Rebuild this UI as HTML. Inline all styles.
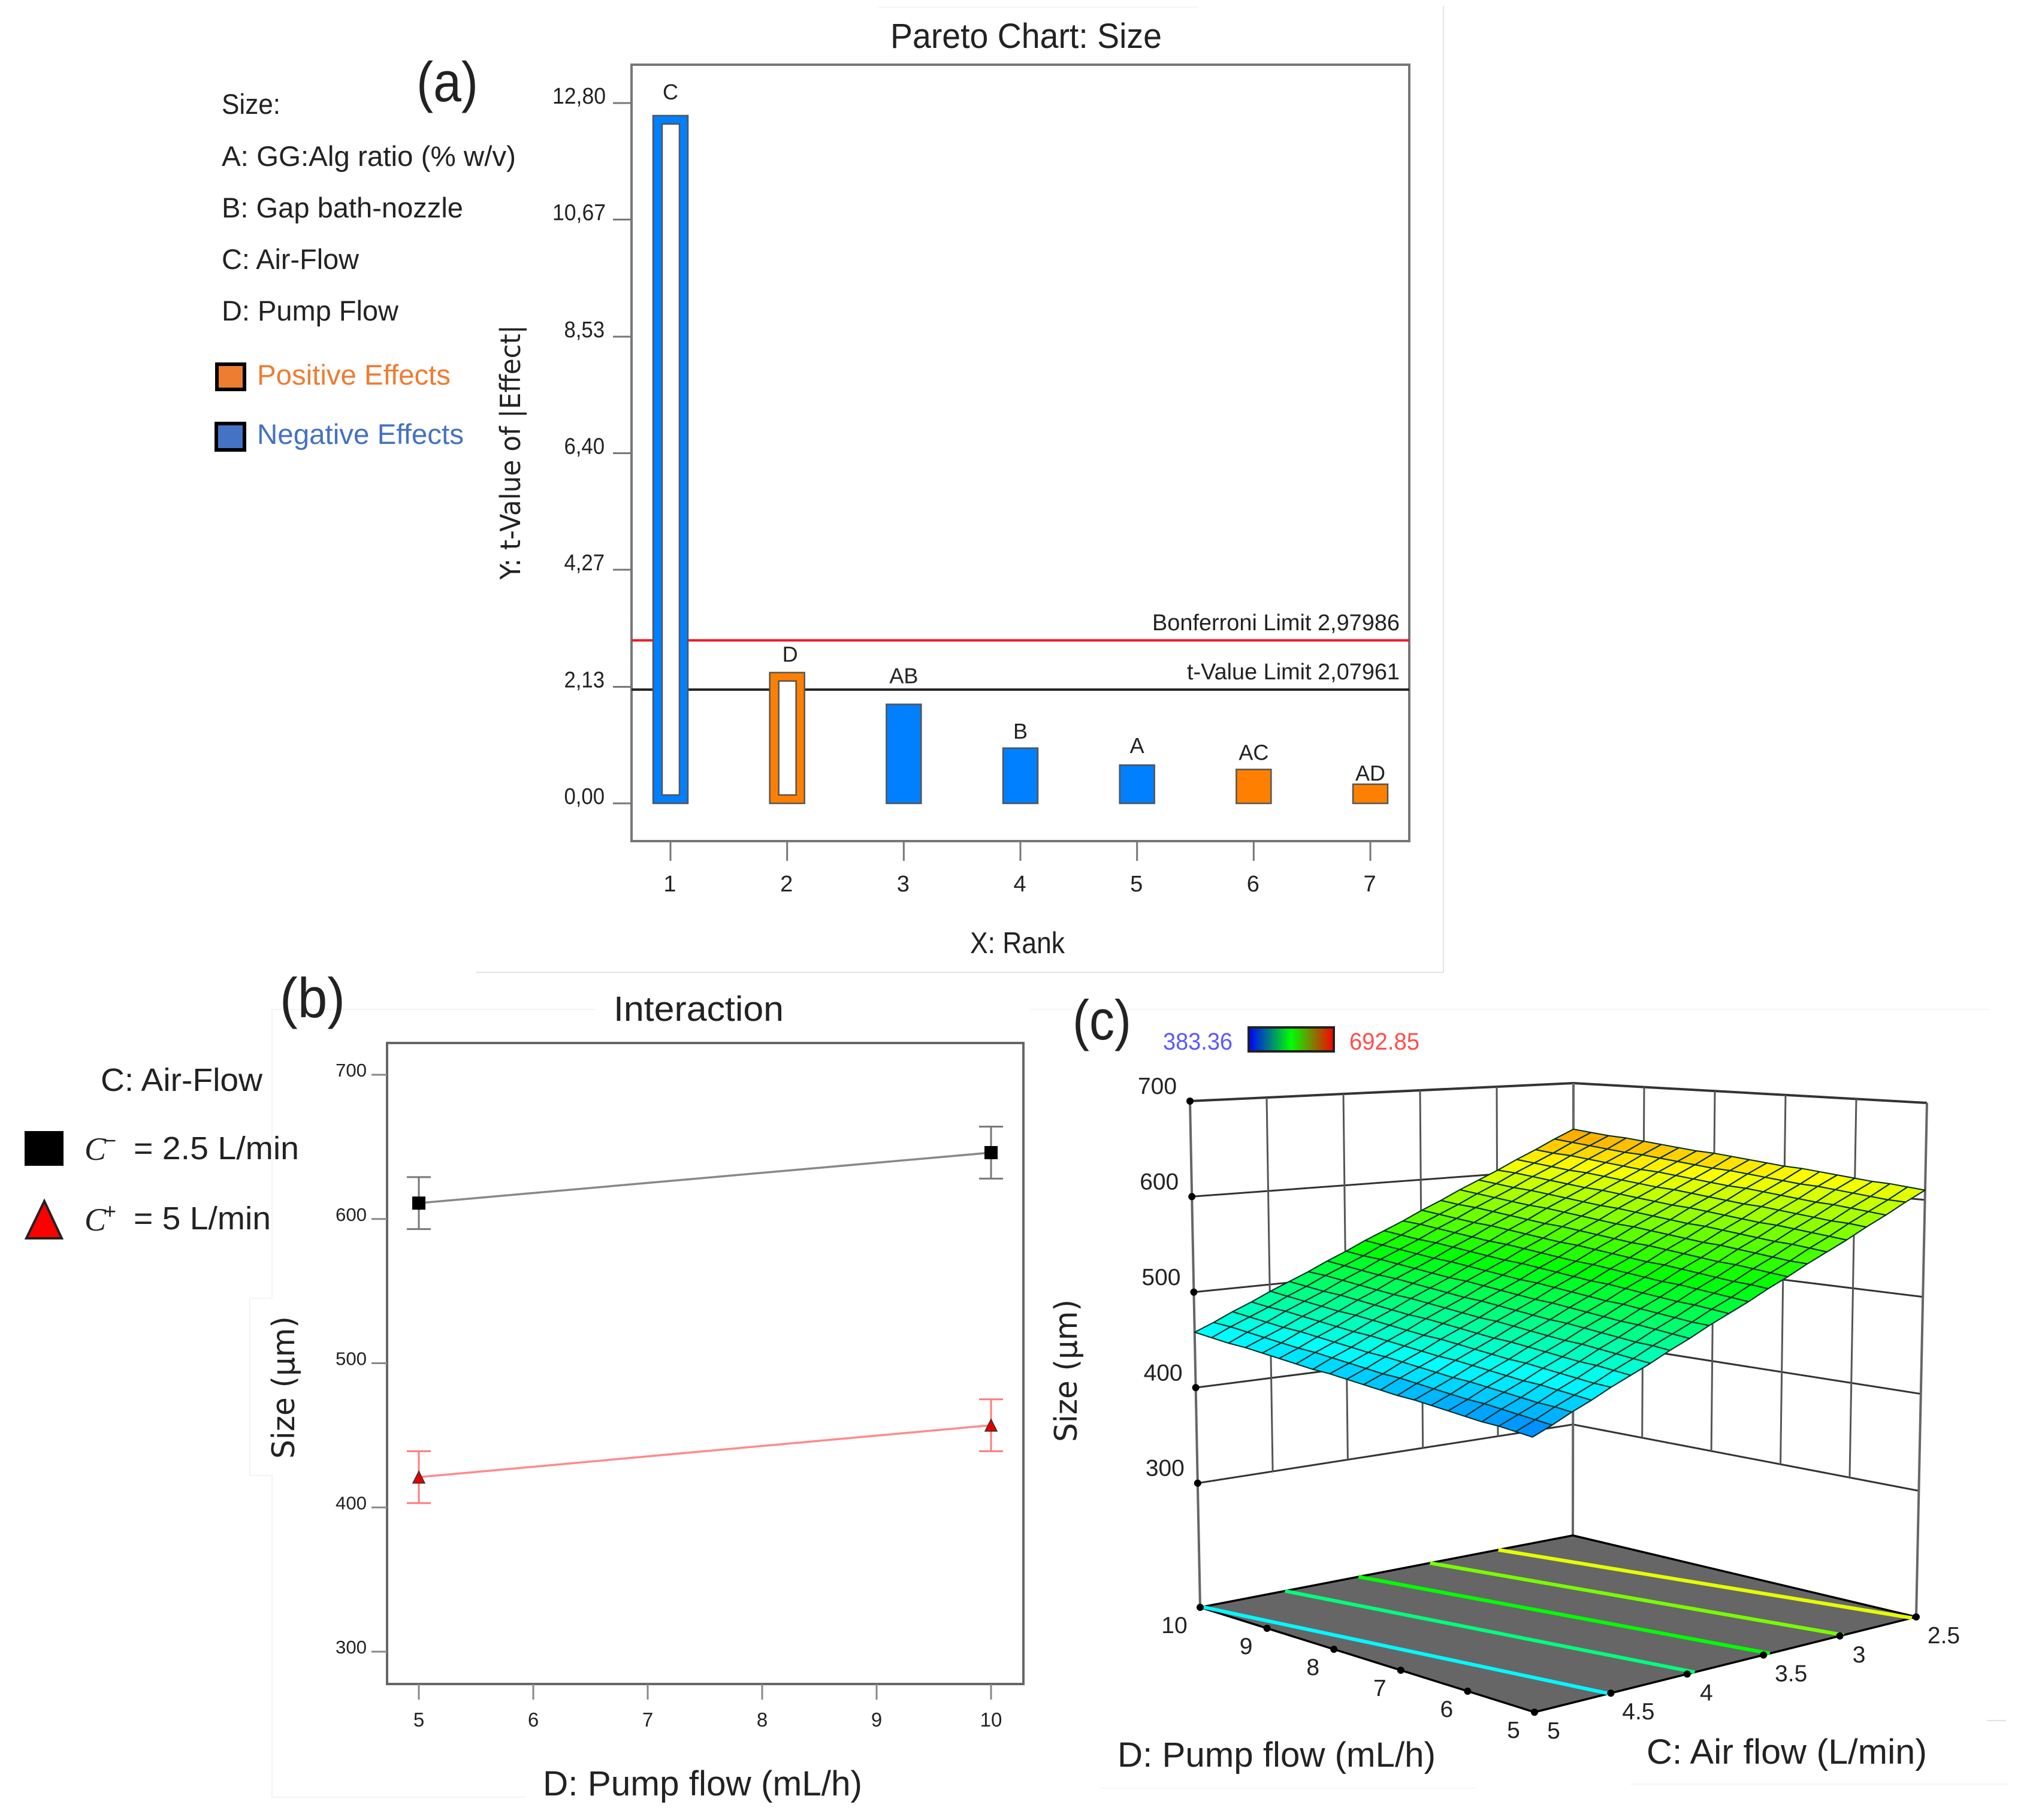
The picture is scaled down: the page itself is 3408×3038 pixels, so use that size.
<!DOCTYPE html>
<html lang="en">
<head>
<meta charset="utf-8">
<title>Pareto, interaction and response surface charts</title>
<style>
html,body{margin:0;padding:0;background:#fff;}
svg{display:block;}
text{font-family:"Liberation Sans",sans-serif;fill:#222;}
.dj{font-family:"DejaVu Sans","Liberation Sans",sans-serif;}
.it{font-family:"Liberation Serif",serif;font-style:italic;}
</style>
</head>
<body>
<svg id="root" xmlns="http://www.w3.org/2000/svg" width="3408" height="3038" viewBox="0 0 3408 3038">
  <rect x="0" y="0" width="3408" height="3038" fill="#fff"/>

  <g fill="none" stroke-width="1.5">
    <path d="M2409 10V1623H794" stroke="#dcdcdc"/>
    <path d="M1464 12H2000" stroke="#f4f4f4"/>
    <path d="M993 1685H454V2167H417V2463H454V3000H876" stroke="#efefef"/>
    <path d="M1720 1685H3320" stroke="#f3f3f3"/>
    <path d="M1835 2985H2465M2720 2978H3350" stroke="#f3f3f3"/>
    <path d="M3316 2872H3348" stroke="#d8d8d8"/>
  </g>

  <!-- panel (a) static text -->
  <g>
    <text x="695" y="169" font-size="94" textLength="103" lengthAdjust="spacingAndGlyphs">(a)</text>
    <text x="370" y="190" font-size="47" textLength="98" lengthAdjust="spacingAndGlyphs">Size:</text>
    <text x="370" y="277" font-size="47" textLength="491" lengthAdjust="spacingAndGlyphs">A: GG:Alg ratio (% w/v)</text>
    <text x="370" y="363" font-size="47" textLength="403" lengthAdjust="spacingAndGlyphs">B: Gap bath-nozzle</text>
    <text x="370" y="449" font-size="47" textLength="229" lengthAdjust="spacingAndGlyphs">C: Air-Flow</text>
    <text x="370" y="535" font-size="47" textLength="295" lengthAdjust="spacingAndGlyphs">D: Pump Flow</text>
    <rect x="362" y="608" width="46" height="42" fill="#ED7D31" stroke="#000" stroke-width="6"/>
    <text x="429" y="642" font-size="47" textLength="323" lengthAdjust="spacingAndGlyphs" style="fill:#ED7D31">Positive Effects</text>
    <rect x="361" y="707" width="47" height="44" fill="#4472C4" stroke="#000" stroke-width="6"/>
    <text x="429" y="741" font-size="47" textLength="345" lengthAdjust="spacingAndGlyphs" style="fill:#4472C4">Negative Effects</text>
  </g>
  <text x="1486" y="80" font-size="58" textLength="453" lengthAdjust="spacingAndGlyphs">Pareto Chart: Size</text>
  <text class="dj" transform="rotate(-90 868 755)" x="868" y="755" text-anchor="middle" font-size="46" textLength="425" lengthAdjust="spacingAndGlyphs">Y: t-Value of |Effect|</text>
  <text x="1619" y="1591" font-size="50" textLength="158" lengthAdjust="spacingAndGlyphs">X: Rank</text>
  <g id="pareto"></g>

  <!-- panel (b) static text -->
  <text x="467" y="1698" font-size="94" textLength="109" lengthAdjust="spacingAndGlyphs">(b)</text>
  <text x="1024" y="1704" font-size="58" textLength="284" lengthAdjust="spacingAndGlyphs">Interaction</text>
  <g>
    <text x="168" y="1821" font-size="54" textLength="270" lengthAdjust="spacingAndGlyphs">C: Air-Flow</text>
    <rect x="41" y="1888" width="65" height="58" fill="#000"/>
    <text class="it" x="141" y="1936" font-size="54">C</text>
    <text x="173" y="1916" font-size="36">−</text>
    <text x="223" y="1935" font-size="54" textLength="276" lengthAdjust="spacingAndGlyphs">= 2.5 L/min</text>
    <polygon points="74,2005 44,2067 103,2067" fill="#ff0000" stroke="#222" stroke-width="4"/>
    <text class="it" x="141" y="2054" font-size="54">C</text>
    <text x="173" y="2034" font-size="36">+</text>
    <text x="223" y="2052" font-size="54" textLength="229" lengthAdjust="spacingAndGlyphs">= 5 L/min</text>
  </g>
  <text class="dj" transform="rotate(-90 491 2316)" x="491" y="2316" text-anchor="middle" font-size="52" textLength="238" lengthAdjust="spacingAndGlyphs">Size (µm)</text>
  <text x="937" y="1812" font-size="58" textLength="469" lengthAdjust="spacingAndGlyphs">C: Air flow (L/min)</text>
  <text x="906" y="2997" font-size="58" textLength="533" lengthAdjust="spacingAndGlyphs">D: Pump flow (mL/h)</text>
  <g id="interaction"></g>

  <!-- panel (c) static text -->
  <defs>
    <linearGradient id="cbar" x1="0" y1="0" x2="1" y2="0">
      <stop offset="0" stop-color="#0000ff"/>
      <stop offset="0.5" stop-color="#00ff00"/>
      <stop offset="1" stop-color="#ff0000"/>
    </linearGradient>
  </defs>
  <text x="1790" y="1735" font-size="94" textLength="98" lengthAdjust="spacingAndGlyphs">(c)</text>
  <text x="1941" y="1752" font-size="40" textLength="116" lengthAdjust="spacingAndGlyphs" style="fill:#5a5aff">383.36</text>
  <rect x="2084" y="1715" width="142" height="40" fill="url(#cbar)" stroke="#222" stroke-width="4"/>
  <text x="2252" y="1752" font-size="40" textLength="117" lengthAdjust="spacingAndGlyphs" style="fill:#ff4d4d">692.85</text>
  <text class="dj" transform="rotate(-90 1797 2288)" x="1797" y="2288" text-anchor="middle" font-size="52" textLength="238" lengthAdjust="spacingAndGlyphs">Size (µm)</text>
  <text x="1865" y="2949" font-size="58" textLength="531" lengthAdjust="spacingAndGlyphs">D: Pump flow (mL/h)</text>
  <text x="2748" y="2944" font-size="58" textLength="468" lengthAdjust="spacingAndGlyphs">C: Air flow (L/min)</text>
  <g id="surface"></g>
</svg>

<script>
// ---------- Pareto chart data ----------
const paretoRanks = [1, 2, 3, 4, 5, 6, 7];
const paretoTerms = ['C', 'D', 'AB', 'B', 'A', 'AC', 'AD'];
const paretoValues = [12.57, 2.39, 1.81, 1.01, 0.70, 0.62, 0.35];
const paretoSigns = ['neg', 'pos', 'neg', 'neg', 'neg', 'pos', 'pos'];
const paretoHollow = [true, true, false, false, false, false, false];
const paretoYTicks = [0, 2.13, 4.27, 6.40, 8.53, 10.67, 12.80];
const paretoYTickLabels = ['0,00', '2,13', '4,27', '6,40', '8,53', '10,67', '12,80'];
const bonferroniLimit = 2.97986;
const tValueLimit = 2.07961;

// ---------- Interaction chart data ----------
const pumpFlowLevels = [5, 10];
const lowAirFlowSize = [611, 646];
const highAirFlowSize = [421, 457];
const lowAirFlowError = [18, 18];
const highAirFlowError = [18, 18];
const interactionYTicks = [300, 400, 500, 600, 700];
const interactionXTicks = [5, 6, 7, 8, 9, 10];

// ---------- Surface chart data ----------
const surfaceAirFlow = [2.5,2.625,2.75,2.875,3,3.125,3.25,3.375,3.5,3.625,3.75,3.875,4,4.125,4.25,4.375,4.5,4.625,4.75,4.875,5];
const surfacePumpFlow = [5,5.25,5.5,5.75,6,6.25,6.5,6.75,7,7.25,7.5,7.75,8,8.25,8.5,8.75,9,9.25,9.5,9.75,10];
const surfaceSize = [
[610,601,591,582,572,563,554,544,535,525,516,507,497,488,478,469,460,450,441,431,422],
[612,602,593,584,574,565,555,546,537,527,518,508,499,490,480,471,461,452,443,433,424],
[614,604,595,585,576,567,557,548,538,529,520,510,501,491,482,473,463,454,444,435,426],
[615,606,597,587,578,568,559,550,540,531,521,512,503,493,484,474,465,456,446,437,427],
[617,608,598,589,580,570,561,551,542,533,523,514,504,495,486,476,467,457,448,439,429],
[619,610,600,591,581,572,563,553,544,534,525,516,506,497,487,478,469,459,450,440,431],
[621,611,602,593,583,574,564,555,546,536,527,517,508,499,489,480,470,461,452,442,433],
[623,613,604,594,585,576,566,557,547,538,529,519,510,500,491,482,472,463,453,444,435],
[624,615,606,596,587,577,568,559,549,540,530,521,512,502,493,483,474,465,455,446,436],
[626,617,607,598,589,579,570,560,551,542,532,523,513,504,495,485,476,466,457,448,438],
[628,619,609,600,590,581,572,562,553,543,534,525,515,506,496,487,478,468,459,449,440],
[630,620,611,602,592,583,573,564,555,545,536,526,517,508,498,489,479,470,461,451,442],
[632,622,613,603,594,585,575,566,556,547,538,528,519,509,500,491,481,472,462,453,444],
[633,624,615,605,596,586,577,568,558,549,539,530,521,511,502,492,483,474,464,455,445],
[635,626,616,607,598,588,579,569,560,551,541,532,522,513,504,494,485,475,466,457,447],
[637,628,618,609,599,590,581,571,562,552,543,534,524,515,505,496,487,477,468,458,449],
[639,629,620,611,601,592,582,573,564,554,545,535,526,517,507,498,488,479,470,460,451],
[641,631,622,612,603,594,584,575,565,556,547,537,528,518,509,500,490,481,471,462,453],
[642,633,624,614,605,595,586,577,567,558,548,539,530,520,511,501,492,483,473,464,454],
[644,635,625,616,607,597,588,578,569,560,550,541,531,522,513,503,494,484,475,466,456],
[646,637,627,618,608,599,590,580,571,561,552,543,533,524,514,505,496,486,477,467,458]
];
const contourLevels = [459, 501, 538, 574, 608];
const surfaceZTicks = [300, 400, 500, 600, 700];
const surfaceCTicks = [2.5, 3, 3.5, 4, 4.5, 5];
const surfaceDTicks = [5, 6, 7, 8, 9, 10];
const colorMin = 383.36;
const colorMax = 692.85;

// ---------- helpers ----------
const NS = 'http://www.w3.org/2000/svg';
function mk(parent, tag, attrs, content) {
  const el = document.createElementNS(NS, tag);
  for (const k in attrs) el.setAttribute(k, attrs[k]);
  if (content !== undefined) el.textContent = content;
  parent.appendChild(el);
  return el;
}

// ---------- Pareto ----------
(function () {
  const g = document.getElementById('pareto');
  const left = 1054, right = 2352, top = 108, bottom = 1404;
  const xRank = r => 1119 + (r - 1) * 194.67;
  const yEff = v => 1341 - v * 91.33;
  const labelGaps = { C: 27, D: 18, AB: 35, B: 16, A: 20, AC: 16, AD: 6 };

  const frame = mk(g, 'rect', { x: left, y: top, width: right - left, height: bottom - top, fill: '#fff', stroke: '#777', 'stroke-width': 4 });
  
  

  paretoYTicks.forEach((v, i) => {
    const t = mk(g, 'line', { x1: 1023, x2: left, y1: yEff(v), y2: yEff(v), stroke: '#777', 'stroke-width': 3 });
    
    
    const s = paretoYTickLabels[i];
    const l = mk(g, 'text', { x: s.length > 4 ? 1011 : 1009, y: yEff(v) + 1, 'text-anchor': 'end', 'font-size': 38, textLength: (s.length - 1) * 21.5 + 3, lengthAdjust: 'spacingAndGlyphs' }, s);
    
    
  });

  const redLine = mk(g, 'line', { x1: left, x2: right, y1: yEff(bonferroniLimit), y2: yEff(bonferroniLimit), stroke: '#ee1c25', 'stroke-width': 4 });
  
  
  const blackLine = mk(g, 'line', { x1: left, x2: right, y1: yEff(tValueLimit), y2: yEff(tValueLimit), stroke: '#222', 'stroke-width': 4 });
  
  
  const bLabel = mk(g, 'text', { x: 1923, y: 1052, 'font-size': 38, textLength: 413, lengthAdjust: 'spacingAndGlyphs' }, 'Bonferroni Limit 2,97986');
  
  
  const tLabel = mk(g, 'text', { x: 1981, y: 1134, 'font-size': 38, textLength: 355, lengthAdjust: 'spacingAndGlyphs' }, 't-Value Limit 2,07961');
  
  

  paretoRanks.forEach((r, i) => {
    const cx = xRank(r), v = paretoValues[i], term = paretoTerms[i];
    const col = paretoSigns[i] === 'pos' ? '#ff8000' : '#007fff';
    const bar = mk(g, 'rect', { x: cx - 29, y: yEff(v), width: 58, height: yEff(0) - yEff(v), fill: col, stroke: '#555', 'stroke-width': 2.5 });
    
    
    if (paretoHollow[i]) {
      const hole = mk(g, 'rect', { x: cx - 14, y: yEff(v) + 14, width: 29, height: yEff(0) - yEff(v) - 28, fill: '#fff', stroke: '#555', 'stroke-width': 2.5 });
      
      
    }
    const lab = mk(g, 'text', { x: term === 'D' ? cx + 5 : cx, y: yEff(v) - labelGaps[term], 'text-anchor': 'middle', 'font-size': 36 }, term);
    
    
    const tick = mk(g, 'line', { x1: cx, x2: cx, y1: bottom, y2: 1437, stroke: '#777', 'stroke-width': 3 });
    
    
    const tl = mk(g, 'text', { x: cx - 1, y: 1488, 'text-anchor': 'middle', 'font-size': 38 }, String(r));
    
    
  });
})();

// ---------- Interaction ----------
(function () {
  const g = document.getElementById('interaction');
  const left = 646, right = 1708, top = 1741, bottom = 2811;
  const xPump = d => 699 + (d - 5) * 191;
  const ySize = v => 2757 - (v - 300) * 2.4075;

  const frame = mk(g, 'rect', { x: left, y: top, width: right - left, height: bottom - top, fill: '#fff', stroke: '#666', 'stroke-width': 4 });
  
  

  interactionYTicks.forEach(v => {
    const t = mk(g, 'line', { x1: 620, x2: left, y1: ySize(v), y2: ySize(v), stroke: '#888', 'stroke-width': 3 });
    
    
    const l = mk(g, 'text', { x: 612, y: ySize(v) + 3, 'text-anchor': 'end', 'font-size': 31, textLength: 52, lengthAdjust: 'spacingAndGlyphs' }, String(v));
    
    
  });
  interactionXTicks.forEach(d => {
    const t = mk(g, 'line', { x1: xPump(d), x2: xPump(d), y1: bottom, y2: 2837, stroke: '#888', 'stroke-width': 3 });
    
    
    const l = mk(g, 'text', { x: xPump(d), y: 2882, 'text-anchor': 'middle', 'font-size': 33 }, String(d));
    
    
  });

  function errorBars(values, errors, color, name) {
    pumpFlowLevels.forEach((d, i) => {
      const x = xPump(d), hi = ySize(values[i] + errors[i]), lo = ySize(values[i] - errors[i]);
      const p = mk(g, 'path', { d: `M${x - 20} ${hi}H${x + 20}M${x} ${hi}V${lo}M${x - 20} ${lo}H${x + 20}`, fill: 'none', stroke: color, 'stroke-width': 3 });
      
      
    });
  }
  errorBars(lowAirFlowSize, lowAirFlowError, '#777', 'low-air-flow-error-bar');
  errorBars(highAirFlowSize, highAirFlowError, '#ff7b7b', 'high-air-flow-error-bar');

  const lowLine = mk(g, 'polyline', { points: pumpFlowLevels.map((d, i) => xPump(d) + ',' + ySize(lowAirFlowSize[i])).join(' '), fill: 'none', stroke: '#888', 'stroke-width': 3.5 });
  
  
  const highLine = mk(g, 'polyline', { points: pumpFlowLevels.map((d, i) => xPump(d) + ',' + ySize(highAirFlowSize[i])).join(' '), fill: 'none', stroke: '#ff8a8a', 'stroke-width': 3.5 });
  
  

  pumpFlowLevels.forEach((d, i) => {
    const x = xPump(d);
    const sq = mk(g, 'rect', { x: x - 11, y: ySize(lowAirFlowSize[i]) - 11, width: 22, height: 22, fill: '#000' });
    
    
    const y = ySize(highAirFlowSize[i]);
    const tri = mk(g, 'polygon', { points: `${x},${y - 10} ${x - 10},${y + 10} ${x + 10},${y + 10}`, fill: '#e00000', stroke: '#333', 'stroke-width': 1.5 });
    
    
  });
})();

// ---------- Surface ----------
(function () {
  const g = document.getElementById('surface');
  const zFloor = 170, zTop = 700;
  const floorCorners = { left: [2003, 2683], back: [2625, 2563], right: [3198, 2699], front: [2561, 2858] };
  const topCorners = { left: [1986, 1838], back: [2626, 1808], right: [3216, 1841], front: [2554, 1892] };
  function bil(q, u, v) {
    const out = [];
    for (let k = 0; k < 2; k++) {
      out.push((1 - u) * (1 - v) * q.left[k] + u * (1 - v) * q.back[k] + u * v * q.right[k] + (1 - u) * v * q.front[k]);
    }
    return out;
  }
  function proj(c, d, z) {
    const u = (5 - c) / 2.5, v = (10 - d) / 5, t = (z - zFloor) / (zTop - zFloor);
    const a = bil(floorCorners, u, v), b = bil(topCorners, u, v);
    return [a[0] + (b[0] - a[0]) * t, a[1] + (b[1] - a[1]) * t];
  }
  function colorOf(val) {
    const t = Math.max(0, Math.min(1, (val - colorMin) / (colorMax - colorMin)));
    const s = t * 4, k = Math.min(3, Math.floor(s)), f = s - k;
    const stops = [[0, 0, 255], [0, 255, 255], [0, 255, 0], [255, 255, 0], [255, 0, 0]];
    const a = stops[k], b = stops[k + 1];
    return `rgb(${Math.round(a[0] + (b[0] - a[0]) * f)},${Math.round(a[1] + (b[1] - a[1]) * f)},${Math.round(a[2] + (b[2] - a[2]) * f)})`;
  }
  const pt = p => p[0].toFixed(1) + ',' + p[1].toFixed(1);

  // wall value lines
  surfaceZTicks.forEach(z => {
    const a = proj(5, 10, z), b = proj(2.5, 10, z), c = proj(2.5, 5, z);
    const l = mk(g, 'polyline', { points: [a, b, c].map(pt).join(' '), fill: 'none', stroke: '#333', 'stroke-width': z === 700 ? 4 : 3 });
    
    
  });
  // wall verticals that stop at the lowest gridline
  surfaceCTicks.filter(c => c > 2.5 && c < 5).forEach(c => {
    const a = proj(c, 10, 700), b = proj(c, 10, 300);
    const l = mk(g, 'line', { x1: a[0], y1: a[1], x2: b[0], y2: b[1], stroke: '#555', 'stroke-width': 3 });
    
    
  });
  surfaceDTicks.filter(d => d > 5 && d < 10).forEach(d => {
    const a = proj(2.5, d, 700), b = proj(2.5, d, 300);
    const l = mk(g, 'line', { x1: a[0], y1: a[1], x2: b[0], y2: b[1], stroke: '#555', 'stroke-width': 3 });
    
    
  });
  // corner posts
  [[5, 10], [2.5, 10], [2.5, 5]].forEach(cd => {
    const a = proj(cd[0], cd[1], zTop), b = proj(cd[0], cd[1], zFloor);
    const l = mk(g, 'line', { x1: a[0], y1: a[1], x2: b[0], y2: b[1], stroke: '#666', 'stroke-width': 4 });
    
    
  });

  // floor
  const floor = mk(g, 'polygon', { points: [proj(5, 10, zFloor), proj(2.5, 10, zFloor), proj(2.5, 5, zFloor), proj(5, 5, zFloor)].map(pt).join(' '), fill: '#666666', stroke: '#000', 'stroke-width': 3.5 });
  
  

  // contour projection
  function airFlowAtLevel(row, level) {
    const vals = surfaceSize[row];
    for (let i = 0; i < vals.length - 1; i++) {
      if (vals[i] >= level && vals[i + 1] <= level) {
        const f = (vals[i] - level) / (vals[i] - vals[i + 1] || 1);
        return surfaceAirFlow[i] + (surfaceAirFlow[i + 1] - surfaceAirFlow[i]) * f;
      }
    }
    return level > vals[0] ? surfaceAirFlow[0] : surfaceAirFlow[vals.length - 1];
  }
  contourLevels.forEach(level => {
    const lastRow = surfacePumpFlow.length - 1;
    const a = proj(airFlowAtLevel(lastRow, level), surfacePumpFlow[lastRow], zFloor);
    const b = proj(airFlowAtLevel(0, level), surfacePumpFlow[0], zFloor);
    const l = mk(g, 'line', { x1: a[0], y1: a[1], x2: b[0], y2: b[1], stroke: colorOf(level), 'stroke-width': 6 });
    
    
  });

  // mesh: node position follows the table; its four corners define a straight-edged sheet
  const lastD = surfacePumpFlow.length - 1, lastC = surfaceAirFlow.length - 1;
  const sheetCorners = {
    left: proj(surfaceAirFlow[lastC], surfacePumpFlow[lastD], surfaceSize[lastD][lastC]),
    back: proj(surfaceAirFlow[0], surfacePumpFlow[lastD], surfaceSize[lastD][0]),
    right: proj(surfaceAirFlow[0], surfacePumpFlow[0], surfaceSize[0][0]),
    front: proj(surfaceAirFlow[lastC], surfacePumpFlow[0], surfaceSize[0][lastC])
  };
  function meshNode(j, i) {
    const c = surfaceAirFlow[i], d = surfacePumpFlow[j], z = surfaceSize[j][i];
    const u = (5 - c) / 2.5, v = (10 - d) / 5;
    const p = bil(sheetCorners, u, v);
    const planeZ = (1 - u) * (1 - v) * surfaceSize[lastD][lastC] + u * (1 - v) * surfaceSize[lastD][0] + u * v * surfaceSize[0][0] + (1 - u) * v * surfaceSize[0][lastC];
    const low = proj(c, d, zFloor), high = proj(c, d, zTop);
    const perUnit = (low[1] - high[1]) / (zTop - zFloor);
    return [p[0], p[1] - (z - planeZ) * perUnit];
  }
  for (let j = 0; j < lastD; j++) {
    for (let i = 0; i < lastC; i++) {
      const v00 = surfaceSize[j][i], v01 = surfaceSize[j][i + 1], v10 = surfaceSize[j + 1][i], v11 = surfaceSize[j + 1][i + 1];
      const pts = [meshNode(j, i), meshNode(j, i + 1), meshNode(j + 1, i + 1), meshNode(j + 1, i)];
      const cell = mk(g, 'polygon', { points: pts.map(pt).join(' '), fill: colorOf((v00 + v01 + v10 + v11) / 4), stroke: '#03302a', 'stroke-width': 2.1, 'stroke-linejoin': 'round' });
      
      
    }
  }

  // axis dots & labels
  function dot(p, name) {
    const d = mk(g, 'circle', { cx: p[0], cy: p[1], r: 6, fill: '#000' });
    
    
  }
  surfaceZTicks.forEach(z => {
    const p = proj(5, 10, z);
    dot(p, 'z-axis-dot');
    const l = mk(g, 'text', { x: p[0] - 22, y: p[1] - 12, 'text-anchor': 'end', 'font-size': 39, textLength: 65, lengthAdjust: 'spacingAndGlyphs' }, String(z));
    
    
  });
  surfaceDTicks.forEach(d => {
    const p = proj(5, d, zFloor);
    dot(p, 'd-axis-dot');
    const l = mk(g, 'text', { x: p[0] - (String(d).length > 1 ? 43 : 35), y: p[1] + 43, 'text-anchor': 'middle', 'font-size': 39 }, String(d));
    
    
  });
  surfaceCTicks.forEach(c => {
    const p = proj(c, 5, zFloor);
    dot(p, 'c-axis-dot');
    const l = mk(g, 'text', { x: p[0] + (String(c).length > 1 ? 46 : 32), y: p[1] + 44, 'text-anchor': 'middle', 'font-size': 39 }, String(c));
    
    
  });
})();
</script>
</body>
</html>
